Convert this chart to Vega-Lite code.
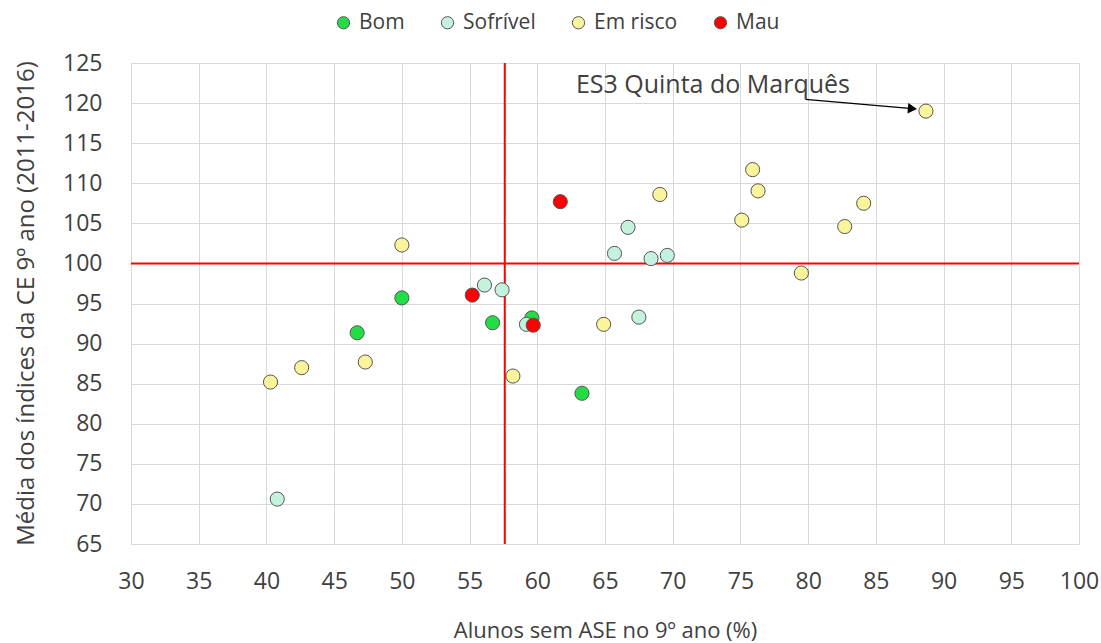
{
  "$schema": "https://vega.github.io/schema/vega-lite/v6.json",
  "autosize": {"type": "none"},
  "padding": {"left": 131, "top": 63, "right": 22, "bottom": 99},
  "width": 948,
  "height": 481,
  "background": "white",
  "config": {
    "font": "Open Sans",
    "view": {"stroke": null},
    "axis": {"labelFont": "Open Sans", "titleFont": "Open Sans", "labelColor": "#404040", "titleColor": "#404040", "gridColor": "#d9d9d9", "gridWidth": 1, "domain": false, "ticks": false, "labelFlush": false, "labelOverlap": false}
  },
  "datasets": {
    "pts": [
      {"x": 46.7, "y": 91.35, "g": "Bom"},
      {"x": 50.0, "y": 95.7, "g": "Bom"},
      {"x": 56.7, "y": 92.6, "g": "Bom"},
      {"x": 59.6, "y": 93.2, "g": "Bom"},
      {"x": 63.3, "y": 83.8, "g": "Bom"},
      {"x": 40.8, "y": 70.6, "g": "Sofrível"},
      {"x": 56.1, "y": 97.3, "g": "Sofrível"},
      {"x": 57.4, "y": 96.7, "g": "Sofrível"},
      {"x": 59.2, "y": 92.4, "g": "Sofrível"},
      {"x": 65.7, "y": 101.25, "g": "Sofrível"},
      {"x": 66.7, "y": 104.5, "g": "Sofrível"},
      {"x": 67.5, "y": 93.3, "g": "Sofrível"},
      {"x": 68.4, "y": 100.6, "g": "Sofrível"},
      {"x": 69.6, "y": 101.0, "g": "Sofrível"},
      {"x": 40.3, "y": 85.2, "g": "Em risco"},
      {"x": 42.6, "y": 87.0, "g": "Em risco"},
      {"x": 47.3, "y": 87.7, "g": "Em risco"},
      {"x": 50.0, "y": 102.3, "g": "Em risco"},
      {"x": 58.2, "y": 85.95, "g": "Em risco"},
      {"x": 64.9, "y": 92.4, "g": "Em risco"},
      {"x": 69.05, "y": 108.6, "g": "Em risco"},
      {"x": 75.1, "y": 105.4, "g": "Em risco"},
      {"x": 75.9, "y": 111.7, "g": "Em risco"},
      {"x": 76.3, "y": 109.05, "g": "Em risco"},
      {"x": 79.5, "y": 98.8, "g": "Em risco"},
      {"x": 82.7, "y": 104.6, "g": "Em risco"},
      {"x": 84.1, "y": 107.5, "g": "Em risco"},
      {"x": 88.7, "y": 119.0, "g": "Em risco"},
      {"x": 55.2, "y": 96.05, "g": "Mau"},
      {"x": 59.7, "y": 92.3, "g": "Mau"},
      {"x": 61.7, "y": 107.7, "g": "Mau"}
    ],
    "vline": [{"x": 57.6}],
    "hline": [{"y": 100}],
    "label": [{"x": 62.85, "y": 122.3, "t": "ES3 Quinta do Marquês"}],
    "arrow": [{"x": 79.8, "y": 120.45, "x2": 87.7, "y2": 119.3}]
  },
  "layer": [
    {
      "data": {"name": "vline"},
      "mark": {"type": "rule", "color": "#ff0000", "strokeWidth": 2},
      "encoding": {"x": {"field": "x", "type": "quantitative", "scale": {"domain": [30, 100], "nice": false, "zero": false}}}
    },
    {
      "data": {"name": "hline"},
      "mark": {"type": "rule", "color": "#ff0000", "strokeWidth": 2},
      "encoding": {"y": {"field": "y", "type": "quantitative", "scale": {"domain": [65, 125], "nice": false, "zero": false}}}
    },
    {
      "data": {"name": "arrow"},
      "mark": {"type": "rule", "color": "#000000", "strokeWidth": 1.3},
      "encoding": {
        "x": {"field": "x", "type": "quantitative"},
        "y": {"field": "y", "type": "quantitative"},
        "x2": {"field": "x2"},
        "y2": {"field": "y2"}
      }
    },
    {
      "data": {"name": "arrow"},
      "mark": {"type": "point", "shape": "triangle-right", "filled": true, "color": "#000000", "size": 110, "angle": 5, "opacity": 1},
      "encoding": {
        "x": {"field": "x2", "type": "quantitative"},
        "y": {"field": "y2", "type": "quantitative"}
      }
    },
    {
      "data": {"name": "label"},
      "mark": {"type": "text", "align": "left", "baseline": "middle", "fontSize": 25, "color": "#404040", "font": "Open Sans"},
      "encoding": {
        "x": {"field": "x", "type": "quantitative"},
        "y": {"field": "y", "type": "quantitative"},
        "text": {"field": "t"}
      }
    },
    {
      "data": {"name": "pts"},
      "mark": {"type": "point", "filled": true, "size": 200, "stroke": "#555555", "strokeWidth": 1, "opacity": 1},
      "encoding": {
        "x": {"field": "x", "type": "quantitative", "scale": {"domain": [30, 100], "nice": false, "zero": false},
          "axis": {"values": [30,35,40,45,50,55,60,65,70,75,80,85,90,95,100], "labelFontSize": 23, "labelPadding": 26, "title": "Alunos sem ASE no 9º ano (%)", "titleFontSize": 22, "titleFontWeight": "normal", "titleY": 86, "titleBaseline": "middle"}},
        "y": {"field": "y", "type": "quantitative", "scale": {"domain": [65, 125], "nice": false, "zero": false},
          "axis": {"values": [65,70,75,80,85,90,95,100,105,110,115,120,125], "labelFontSize": 23, "labelPadding": 29, "title": "Média dos índices da CE 9º ano (2011-2016)", "titleFontSize": 24, "titleFontWeight": "normal", "titleAngle": -90, "titleX": -105, "titleY": 240, "titleAlign": "center", "titleBaseline": "middle"}},
        "fill": {"field": "g", "type": "nominal",
          "scale": {"domain": ["Bom", "Sofrível", "Em risco", "Mau"], "range": ["#22dd44", "#c4f2de", "#faf59a", "#ff0000"]},
          "legend": {"title": null, "orient": "none", "direction": "horizontal", "legendX": 202, "legendY": -51, "labelFontSize": 21, "labelColor": "#404040", "labelFont": "Open Sans", "symbolSize": 150, "symbolStrokeColor": "#555555", "symbolStrokeWidth": 1, "symbolType": "circle", "columnPadding": 32, "labelOffset": 5}}
      }
    }
  ]
}
